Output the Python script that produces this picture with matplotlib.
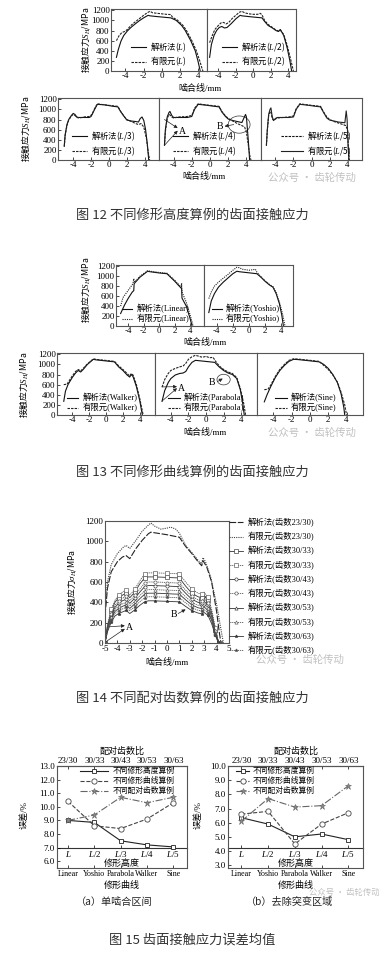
import matplotlib
matplotlib.use('Agg')
import matplotlib.pyplot as plt
from matplotlib.patches import Ellipse

plt.rcParams['font.family'] = ['Liberation Serif', 'Noto Sans CJK SC']
plt.rcParams['mathtext.fontset'] = 'custom'
plt.rcParams['mathtext.rm'] = 'Liberation Serif'
plt.rcParams['mathtext.it'] = 'Liberation Serif:italic'
plt.rcParams['axes.unicode_minus'] = False

# ---------------- Fig.12 : different relief heights ----------------
h1_ana_x = [-5.0, -4.8, -4.5, -4.2, -3.8, -3.4, -3.0, -2.5, -2.0, -1.5, -1.3, -0.5, 0.5, 1.0, 1.6, 2.2, 2.6, 3.2, 3.7, 4.0, 4.25]
h1_ana_y = [270, 420, 590, 700, 790, 860, 920, 990, 1050, 1100, 1090, 1075, 1058, 1050, 1000, 900, 800, 600, 400, 200, 0]
h1_fem_x = [-5.0, -4.7, -4.4, -4.1, -3.8, -3.4, -3.0, -2.5, -2.0, -1.6, -1.3, -1.0, -0.5, 0.0, 0.5, 1.0, 1.2, 1.7, 2.3, 2.7, 3.3, 3.8, 4.2, 4.45, 4.55]
h1_fem_y = [600, 700, 760, 780, 820, 900, 960, 1030, 1100, 1150, 1180, 1150, 1140, 1130, 1120, 1115, 1060, 1010, 910, 810, 610, 410, 200, 50, 0]

h2_ana_x = [-5.0, -4.8, -4.5, -4.2, -3.9, -3.6, -3.3, -3.0, -2.5, -2.0, -1.5, -1.3, -0.5, 0.5, 1.0, 1.3, 1.7, 2.2, 2.6, 2.9, 3.1, 3.5, 3.9, 4.2, 4.4]
h2_ana_y = [270, 520, 700, 800, 860, 880, 850, 860, 940, 1030, 1100, 1090, 1075, 1058, 1050, 980, 900, 850, 800, 780, 820, 700, 450, 200, 0]
h2_fem_x = [-5.0, -4.7, -4.4, -4.0, -3.7, -3.4, -3.1, -2.8, -2.4, -2.0, -1.6, -1.3, -1.0, -0.5, 0.0, 0.5, 0.8, 1.0, 1.3, 1.7, 2.2, 2.6, 2.9, 3.1, 3.5, 3.9, 4.3, 4.6]
h2_fem_y = [560, 700, 820, 900, 950, 960, 930, 960, 1040, 1100, 1160, 1180, 1150, 1130, 1120, 1120, 1140, 1110, 1000, 920, 860, 810, 790, 810, 720, 500, 220, 0]

h3_ana_x = [-5.0, -4.9, -4.7, -4.5, -4.2, -4.0, -3.8, -3.6, -3.4, -2.8, -2.2, -2.0, -1.6, -1.3, -0.5, 0.5, 1.0, 1.3, 1.7, 2.0, 2.5, 3.0, 3.3, 3.5, 3.7, 3.9, 4.1, 4.3, 4.45]
h3_ana_y = [280, 500, 700, 800, 880, 920, 900, 850, 840, 840, 840, 860, 1000, 1100, 1090, 1060, 1050, 960, 860, 790, 770, 760, 750, 820, 850, 780, 600, 300, 0]
h3_fem_x = [-5.0, -4.9, -4.7, -4.5, -4.2, -4.0, -3.8, -3.6, -3.3, -2.8, -2.2, -1.9, -1.6, -1.3, -0.5, 0.5, 1.0, 1.3, 1.7, 2.0, 2.5, 3.0, 3.3, 3.6, 3.9, 4.2, 4.4, 4.55]
h3_fem_y = [260, 480, 680, 790, 870, 900, 880, 840, 830, 850, 860, 900, 1020, 1110, 1090, 1070, 1060, 960, 860, 800, 760, 720, 700, 720, 650, 420, 150, 0]

h4_ana_x = [-5.0, -4.9, -4.7, -4.5, -4.4, -4.2, -4.0, -3.5, -2.5, -2.0, -1.7, -1.3, -0.5, 0.5, 1.0, 1.3, 1.7, 2.0, 2.5, 3.0, 3.5, 3.7, 3.9, 4.0, 4.2, 4.35]
h4_ana_y = [300, 600, 850, 940, 960, 880, 840, 840, 840, 860, 1000, 1100, 1085, 1060, 1050, 950, 860, 810, 780, 760, 740, 820, 900, 850, 400, 0]
h4_fem_x = [-5.0, -4.9, -4.7, -4.5, -4.4, -4.2, -4.0, -3.5, -2.5, -2.0, -1.7, -1.3, -0.5, 0.5, 1.0, 1.3, 1.7, 2.0, 2.5, 3.0, 3.5, 3.8, 4.0, 4.2, 4.4, 4.5]
h4_fem_y = [280, 560, 820, 900, 890, 850, 830, 850, 860, 880, 1020, 1110, 1090, 1070, 1060, 960, 870, 820, 770, 720, 680, 650, 550, 300, 60, 0]

h5_ana_x = [-5.0, -4.9, -4.75, -4.6, -4.5, -4.35, -4.2, -4.0, -3.8, -2.5, -2.0, -1.7, -1.3, -0.5, 0.5, 1.0, 1.3, 1.7, 2.0, 2.5, 3.0, 3.5, 3.8, 4.0, 4.1, 4.2]
h5_ana_y = [280, 580, 880, 960, 950, 820, 780, 810, 830, 850, 870, 1010, 1110, 1090, 1070, 1060, 960, 850, 800, 760, 730, 700, 680, 600, 200, 0]
h5_fem_x = [-5.0, -4.9, -4.75, -4.6, -4.5, -4.35, -4.2, -4.0, -3.8, -2.5, -2.0, -1.7, -1.3, -0.5, 0.5, 1.0, 1.3, 1.7, 2.0, 2.5, 3.0, 3.5, 3.7, 3.85, 3.95, 4.05, 4.15]
h5_fem_y = [300, 600, 900, 1000, 1030, 850, 780, 820, 840, 840, 850, 1000, 1100, 1085, 1060, 1050, 950, 830, 790, 770, 750, 740, 735, 970, 800, 300, 0]

height_names = ['$L$', '$L$/2', '$L$/3', '$L$/4', '$L$/5']

# ---------------- Fig.13 : different relief curves ----------------
c1_ana_x = [-5.0, -4.5, -4.0, -3.5, -3.3, -3.25, -2.5, -1.5, -1.2, 0.0, 1.0, 2.0, 2.9, 2.95, 3.5, 4.0, 4.25]
c1_ana_y = [250, 420, 560, 680, 710, 850, 980, 1100, 1090, 1065, 1050, 900, 750, 560, 400, 150, 0]
c1_fem_x = [-5.0, -4.7, -4.0, -3.4, -3.3, -3.2, -2.5, -1.5, -1.2, 0.0, 1.0, 2.0, 2.85, 2.9, 2.95, 3.5, 4.0, 4.4]
c1_fem_y = [400, 570, 720, 850, 950, 880, 1000, 1110, 1100, 1075, 1060, 920, 780, 860, 680, 480, 220, 0]

c2_ana_x = [-5.0, -4.7, -4.3, -3.8, -3.2, -2.5, -2.0, -1.5, -1.2, 1.0, 1.5, 2.0, 2.6, 3.0, 3.4, 3.8, 4.1, 4.3]
c2_ana_y = [270, 500, 650, 780, 880, 980, 1050, 1100, 1090, 1050, 980, 900, 820, 780, 650, 450, 220, 0]
c2_fem_x = [-5.0, -4.7, -4.3, -3.8, -3.2, -2.5, -2.0, -1.5, -1.2, -0.8, 0.0, 0.5, 0.8, 1.0, 1.5, 2.0, 2.6, 3.0, 3.4, 3.8, 4.2, 4.5]
c2_fem_y = [550, 680, 800, 880, 960, 1050, 1120, 1180, 1170, 1140, 1120, 1130, 1140, 1080, 990, 910, 830, 790, 670, 480, 240, 0]

c3_ana_x = [-5.0, -4.8, -4.5, -4.0, -3.6, -3.3, -3.0, -2.7, -2.2, -1.5, -1.2, 1.0, 1.5, 2.0, 2.5, 2.8, 3.0, 3.2, 3.6, 4.0, 4.3]
c3_ana_y = [270, 470, 600, 740, 830, 880, 850, 900, 1000, 1100, 1090, 1050, 950, 880, 790, 750, 800, 760, 560, 280, 0]
c3_fem_x = [-5.0, -4.6, -4.5, -4.0, -3.6, -3.3, -3.0, -2.7, -2.2, -1.5, -1.2, 1.0, 1.5, 2.0, 2.5, 2.8, 3.0, 3.2, 3.6, 4.0, 4.4]
c3_fem_y = [600, 610, 640, 770, 860, 900, 870, 920, 1010, 1110, 1100, 1060, 970, 900, 820, 770, 820, 790, 600, 320, 0]

c4_ana_x = [-5.0, -4.7, -4.3, -4.0, -3.5, -3.0, -2.6, -2.3, -2.0, -1.6, -1.2, 1.0, 1.5, 2.0, 2.5, 3.0, 3.5, 3.9, 4.2, 4.35]
c4_ana_y = [270, 480, 640, 720, 790, 820, 830, 860, 950, 1040, 1080, 1040, 950, 880, 830, 800, 720, 500, 200, 0]
c4_fem_x = [-5.0, -4.7, -4.3, -4.0, -3.5, -3.0, -2.6, -2.3, -2.0, -1.6, -1.2, -0.8, -0.4, 0.0, 0.4, 0.8, 1.1, 1.5, 2.0, 2.5, 3.0, 3.5, 3.9, 4.3, 4.5]
c4_fem_y = [550, 700, 820, 880, 920, 950, 970, 1020, 1100, 1150, 1180, 1160, 1140, 1160, 1130, 1140, 1060, 970, 900, 850, 820, 740, 530, 220, 0]

c5_ana_x = [-5.0, -4.7, -4.3, -3.8, -3.3, -2.8, -2.3, -1.8, -1.3, 0.0, 1.0, 1.5, 2.0, 2.5, 3.0, 3.4, 3.7, 3.8]
c5_ana_y = [260, 400, 560, 740, 880, 980, 1060, 1100, 1095, 1070, 1050, 1000, 920, 800, 640, 420, 150, 0]
c5_fem_x = [-5.0, -4.6, -4.3, -3.8, -3.3, -2.8, -2.3, -1.8, -1.3, 0.0, 1.0, 1.5, 2.0, 2.5, 3.0, 3.4, 3.8, 4.0]
c5_fem_y = [500, 510, 590, 760, 900, 1000, 1080, 1110, 1105, 1080, 1060, 980, 900, 790, 650, 450, 200, 0]

curve_names = ['Linear', 'Yoshio', 'Parabola', 'Walker', 'Sine']

# ---------------- Fig.14 : different tooth-number pairs ----------------
t0_ana_x = [-5.0, -4.8, -4.5, -4.0, -3.6, -3.3, -3.0, -2.5, -2.0, -1.5, -1.3, 0.0, 1.0, 1.5, 2.0, 2.5, 2.8, 2.9, 3.2, 3.6, 4.0, 4.2, 4.35]
t0_ana_y = [270, 540, 700, 800, 845, 860, 830, 930, 1010, 1075, 1090, 1065, 1040, 950, 880, 800, 760, 810, 750, 600, 310, 120, 0]
t0_fem_x = [-5.0, -4.8, -4.5, -4.0, -3.5, -3.3, -3.0, -2.5, -2.0, -1.5, -1.3, -1.0, -0.5, 0.0, 0.3, 0.7, 1.0, 1.5, 2.0, 2.6, 2.8, 2.9, 3.1, 3.5, 4.0, 4.4, 4.55]
t0_fem_y = [300, 600, 770, 880, 945, 960, 930, 1010, 1100, 1160, 1180, 1150, 1120, 1130, 1140, 1120, 1080, 960, 890, 800, 780, 840, 800, 660, 380, 100, 0]

low_x = [-5.0, -4.8, -4.5, -4.2, -3.9, -3.6, -3.3, -3.0, -2.6, -2.2, -1.8, -1.5, -1.0, -0.5, 0.0, 0.5, 1.0, 1.5, 2.0, 2.5, 2.8, 3.0, 3.3, 3.6, 3.9, 4.1, 4.25]
t1_fem_y = [0, 180, 330, 420, 470, 500, 520, 470, 530, 610, 680, 690, 690, 688, 685, 683, 680, 600, 530, 490, 480, 500, 450, 330, 150, 40, 0]
t1_ana_y = [0, 170, 310, 400, 445, 470, 490, 445, 500, 580, 640, 650, 650, 648, 645, 642, 640, 560, 490, 455, 445, 470, 420, 300, 130, 30, 0]
t2_fem_y = [0, 160, 290, 370, 410, 440, 460, 415, 470, 530, 590, 600, 600, 598, 595, 592, 590, 520, 460, 425, 415, 440, 395, 280, 120, 30, 0]
t2_ana_y = [0, 150, 275, 350, 390, 415, 430, 390, 440, 500, 555, 565, 565, 562, 560, 557, 555, 490, 430, 400, 390, 410, 370, 260, 110, 25, 0]
t3_fem_y = [0, 140, 255, 330, 365, 385, 400, 365, 410, 465, 515, 525, 525, 522, 520, 518, 515, 455, 400, 372, 362, 380, 345, 240, 100, 20, 0]
t3_ana_y = [0, 130, 240, 310, 340, 360, 375, 340, 385, 435, 480, 490, 490, 488, 485, 482, 480, 425, 375, 347, 338, 355, 320, 225, 90, 20, 0]
t4_fem_y = [0, 120, 225, 290, 318, 335, 350, 318, 355, 405, 445, 455, 455, 452, 450, 447, 445, 395, 348, 322, 314, 330, 298, 210, 85, 18, 0]
t4_ana_y = [0, 110, 205, 265, 290, 305, 320, 290, 325, 370, 405, 415, 415, 412, 410, 407, 405, 360, 318, 295, 287, 300, 272, 190, 75, 15, 0]
pair_names = ['23/30', '30/33', '30/43', '30/53', '30/63']

# ---------------- Fig.15 : mean error ----------------
err_a_height = [9.0, 8.85, 7.5, 7.2, 7.05]
err_a_curve = [10.4, 8.6, 8.4, 9.1, 10.3]
err_a_pair = [9.0, 9.4, 10.7, 10.3, 10.7]
err_b_height = [6.35, 5.9, 5.0, 5.2, 4.8]
err_b_curve = [6.6, 6.8, 4.5, 5.9, 6.7]
err_b_pair = [6.1, 7.7, 7.1, 7.2, 8.6]

W, H = 379, 958
fig = plt.figure(figsize=(W / 100, H / 100), dpi=100)
CJK = ['Noto Sans CJK SC']
FRAME = '#555555'


def px_axes(left, top, right, bottom):
    return fig.add_axes([left / W, 1 - bottom / H, (right - left) / W, (bottom - top) / H])


def ftext(x, y, s, **kw):
    fig.text(x / W, 1 - y / H, s, ha='center', va='center', **kw)


def stress_panel(box, xlim, first, ana, fem, tag, ana_ls, fem_ls, hlen, leg_x):
    ax = px_axes(*box)
    la, = ax.plot(ana[0], ana[1], color='#111111', lw=0.8, ls=ana_ls)
    lf, = ax.plot(fem[0], fem[1], color='#222222', lw=0.8, ls=fem_ls)
    ax.set_xlim(*xlim)
    ax.set_ylim(0, 1225)
    ax.set_xticks([-4, -2, 0, 2, 4])
    ax.set_yticks(range(0, 1201, 200))
    ax.tick_params(direction='in', length=2, width=0.5, labelsize=6.5, pad=1)
    if not first:
        ax.tick_params(labelleft=False, left=False)
    for s in ax.spines.values():
        s.set_color(FRAME)
        s.set_linewidth(0.8)
    # labels with an italic $L$ go through mathtext, whose plain part needs a CJK font
    prop = {'size': 6, 'family': CJK if '$' in tag else plt.rcParams['font.family']}
    ax.legend([la, lf], ['解析法(%s)' % tag, '有限元(%s)' % tag], loc='lower center',
              bbox_to_anchor=(leg_x, 0.0), frameon=False, prop=prop,
              borderaxespad=0, borderpad=0.3, labelspacing=0.1,
              handlelength=hlen, handletextpad=0.5)
    return ax


def arrow(ax, tail, head):
    ax.annotate('', xy=head, xytext=tail,
                arrowprops=dict(arrowstyle='-|>', lw=0.5, color='#222222', mutation_scale=5,
                                shrinkA=0, shrinkB=0))


dash = (0, (2.2, 1.0))
dot = (0, (1.0, 1.0))

# Fig.12 top row
stress_panel((111, 9, 207, 71), (-5.6, 5.0), True, (h1_ana_x, h1_ana_y), (h1_fem_x, h1_fem_y),
             height_names[0], '-', dash, 1.8, 0.5)
stress_panel((207, 9, 296, 71), (-5.3, 4.9), False, (h2_ana_x, h2_ana_y), (h2_fem_x, h2_fem_y),
             height_names[1], '-', dash, 1.8, 0.52)
# Fig.12 bottom row
stress_panel((58, 98, 159, 160), (-5.7, 5.6), True, (h3_ana_x, h3_ana_y), (h3_fem_x, h3_fem_y),
             height_names[2], '-', dash, 1.8, 0.45)
ax = stress_panel((159, 98, 261, 160), (-5.6, 5.6), False, (h4_ana_x, h4_ana_y), (h4_fem_x, h4_fem_y),
                  height_names[3], '-', dash, 1.8, 0.45)
arrow(ax, (-5.0, 800), (-3.55, 630))
arrow(ax, (-5.0, 290), (-3.55, 580))
ax.text(-3.45, 560, 'A', fontsize=7, va='center')
ax.add_patch(Ellipse((3.2, 700), 2.4, 340, fill=False, lw=0.5, color='#333333'))
arrow(ax, (2.6, 700), (1.6, 665))
ax.text(1.45, 665, 'B', fontsize=7, va='center', ha='right')
# in this panel the legend pairs the dotted line with 解析法 and the solid one with 有限元
stress_panel((261, 98, 362, 160), (-5.6, 5.6), False, (h5_ana_x, h5_ana_y), (h5_fem_x, h5_fem_y),
             height_names[4], dash, '-', 2.6, 0.55)

ftext(86, 40, '接触应力$S_H$/MPa', rotation=90, fontsize=6.3, family=CJK)
ftext(25, 129, '接触应力$S_H$/MPa', rotation=90, fontsize=6.3, family=CJK)
ftext(200, 88, '啮合线/mm', fontsize=6.5)
ftext(204, 177, '啮合线/mm', fontsize=6.5)
ftext(192, 215, '图 12 不同修形高度算例的齿面接触应力', fontsize=9.5, family=CJK, color='#333333')

# Fig.13 top row
stress_panel((116, 265, 204, 326), (-5.6, 5.8), True, (c1_ana_x, c1_ana_y), (c1_fem_x, c1_fem_y),
             curve_names[0], '-', dot, 1.2, 0.45)
stress_panel((204, 265, 293, 326), (-5.6, 5.5), False, (c2_ana_x, c2_ana_y), (c2_fem_x, c2_fem_y),
             curve_names[1], '-', dot, 1.2, 0.47)
# Fig.13 bottom row
stress_panel((57, 353, 155, 415), (-5.8, 5.8), True, (c3_ana_x, c3_ana_y), (c3_fem_x, c3_fem_y),
             curve_names[3], '-', dash, 1.4, 0.46)
ax = stress_panel((155, 353, 257, 415), (-5.8, 5.8), False, (c4_ana_x, c4_ana_y), (c4_fem_x, c4_fem_y),
                  curve_names[2], '-', dash, 1.4, 0.5)
arrow(ax, (-5.0, 555), (-3.3, 560))
arrow(ax, (-5.0, 275), (-3.3, 530))
ax.text(-3.2, 530, 'A', fontsize=7, va='center')
ax.add_patch(Ellipse((2.0, 700), 1.5, 210, fill=False, lw=0.5, color='#333333'))
arrow(ax, (1.3, 660), (1.9, 720))
ax.text(1.1, 640, 'B', fontsize=7, va='center', ha='right')
stress_panel((257, 353, 363, 415), (-5.8, 5.8), False, (c5_ana_x, c5_ana_y), (c5_fem_x, c5_fem_y),
             curve_names[4], '-', dash, 1.4, 0.46)

ftext(85, 290, '接触应力$S_H$/MPa', rotation=90, fontsize=6.3, family=CJK)
ftext(24, 385, '接触应力$S_H$/MPa', rotation=90, fontsize=6.3, family=CJK)
ftext(205, 343, '啮合线/mm', fontsize=6.5)
ftext(205, 433, '啮合线/mm', fontsize=6.5)
ftext(192, 472, '图 13 不同修形曲线算例的齿面接触应力', fontsize=9.5, family=CJK, color='#333333')

# Fig.14
ax = px_axes(105, 521, 229, 643)
ax.plot(t0_ana_x, t0_ana_y, color='#222222', lw=0.8, ls=(0, (6, 1.5)), label='解析法(齿数%s)' % pair_names[0])
ax.plot(t0_fem_x, t0_fem_y, color='#444444', lw=0.8, ls=(0, (1, 1)), label='有限元(齿数%s)' % pair_names[0])
low_series = [(t1_ana_y, t1_fem_y, 's'), (t2_ana_y, t2_fem_y, 'o'),
              (t3_ana_y, t3_fem_y, '^'), (t4_ana_y, t4_fem_y, '*')]
for k, (ya, yf, mk) in enumerate(low_series):
    face = '#444444' if mk == '*' else 'white'
    ax.plot(low_x, ya, color='#333333', lw=0.6, ls='-', marker=mk, ms=2.3, mew=0.45, mfc=face,
            markevery=2, label='解析法(齿数%s)' % pair_names[k + 1])
    ax.plot(low_x, yf, color='#555555', lw=0.6, ls=(0, (1.5, 1)), marker=mk, ms=2.3, mew=0.45,
            mfc=face, markevery=2, label='有限元(齿数%s)' % pair_names[k + 1])
ax.set_xlim(-5, 5)
ax.set_ylim(0, 1200)
ax.set_xticks(range(-5, 6))
ax.set_yticks(range(0, 1201, 200))
ax.tick_params(direction='in', length=2, width=0.5, labelsize=6.5, pad=1.5)
for s in ax.spines.values():
    s.set_color(FRAME)
    s.set_linewidth(0.8)
arrow(ax, (-4.6, 160), (-3.4, 170))
arrow(ax, (-4.9, 15), (-3.4, 140))
ax.text(-3.3, 155, 'A', fontsize=7, va='center')
arrow(ax, (0.9, 290), (1.5, 330))
ax.text(0.8, 280, 'B', fontsize=7, va='center', ha='right')
ax.add_patch(Ellipse((2.9, 410), 0.6, 110, fill=False, lw=0.5, color='#333333'))
ax.legend(loc='upper left', bbox_to_anchor=(229 / W, 1 - 518 / H), bbox_transform=fig.transFigure,
          frameon=False, fontsize=6, borderpad=0, labelspacing=0.6, handlelength=1.7,
          handletextpad=0.5, borderaxespad=0)
ftext(72, 582, '接触应力$\\sigma_H$/MPa', rotation=90, fontsize=6.3, family=CJK)
ftext(167, 662, '啮合线/mm', fontsize=6.5)
ftext(192, 698, '图 14 不同配对齿数算例的齿面接触应力', fontsize=9.5, family=CJK, color='#333333')


# Fig.15
def error_panel(box, xlim, ylim, yticks, ys, leg_x, hlen):
    ax = px_axes(*box)
    xs = list(range(len(curve_names)))
    ax.plot(xs, ys[0], '-', color='#222222', lw=0.8, marker='s', ms=3.5, mfc='white', mew=0.6,
            label='不同修形高度算例')
    ax.plot(xs, ys[1], '--', color='#444444', lw=0.8, marker='o', ms=3.8, mfc='white', mew=0.6,
            label='不同修形曲线算例')
    ax.plot(xs, ys[2], '-.', color='#666666', lw=0.8, marker='*', ms=4.5, mfc='#888888', mew=0.4,
            label='不同配对齿数算例')
    ax.set_xlim(*xlim)
    ax.set_ylim(*ylim)
    ax.set_yticks(yticks)
    ax.yaxis.set_major_formatter('{x:.1f}')
    ax.set_xticks(xs, curve_names)
    ax.tick_params(direction='in', length=2, width=0.5, labelsize=6.5, pad=1.5)
    ax.tick_params(axis='x', labelsize=5.8)
    ax.set_xlabel('修形曲线', fontsize=6.5, labelpad=2)
    for s in ax.spines.values():
        s.set_color(FRAME)
        s.set_linewidth(0.8)
    top = ax.secondary_xaxis('top')
    top.set_ticks(xs, labels=pair_names)
    top.tick_params(direction='in', length=2, width=0.5, labelsize=6.5, pad=1)
    top.set_xlabel('配对齿数比', fontsize=6.5, labelpad=2)
    top.spines['top'].set_color(FRAME)
    mid = ax.secondary_xaxis(0.2)
    mid.set_ticks(xs, labels=height_names)
    mid.tick_params(direction='in', length=2, width=0.5, labelsize=6.5, pad=1)
    mid.set_xlabel('修形高度', fontsize=6.5, labelpad=0)
    mid.spines['bottom'].set_color('#333333')
    mid.spines['bottom'].set_linewidth(0.8)
    ax.legend(loc='upper left', bbox_to_anchor=(leg_x, 1.0), frameon=False, fontsize=5.6,
              borderpad=0.15, labelspacing=0.25, handlelength=hlen, handletextpad=0.5,
              borderaxespad=0)
    return ax


error_panel((57, 766, 187, 868), (-0.42, 4.52), (5.5, 13.0), [6, 7, 8, 9, 10, 11, 12, 13],
            (err_a_height, err_a_curve, err_a_pair), 0.17, 3.6)
error_panel((228, 766, 363, 868), (-0.5, 4.55), (2.8, 10.0), [3, 4, 5, 6, 7, 8, 9, 10],
            (err_b_height, err_b_curve, err_b_pair), 0.05, 1.7)
ftext(25, 815, '误差/%', rotation=90, fontsize=6.5)
ftext(199, 815, '误差/%', rotation=90, fontsize=6.5)
ftext(114, 902, '（a）单啮合区间', fontsize=7.3, family=CJK, color='#222222')
ftext(290, 902, '（b）去除突变区域', fontsize=7.3, family=CJK, color='#222222')
ftext(192, 940, '图 15 齿面接触应力误差均值', fontsize=9.5, family=CJK, color='#333333')

# watermarks
for wx, wy, fs in ((312, 178, 7.5), (312, 433, 7.5), (300, 660, 7.5), (344, 892.5, 6.0)):
    ftext(wx, wy, '公众号 · 齿轮传动', fontsize=fs, family=CJK, color='#b5b5b5', alpha=0.85)

fig.savefig('out.png', dpi=100)
